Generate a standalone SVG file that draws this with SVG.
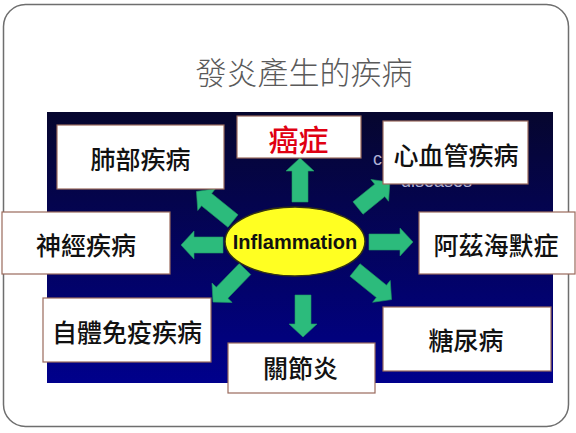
<svg xmlns="http://www.w3.org/2000/svg" width="576" height="433" viewBox="0 0 576 433">
<defs>
<linearGradient id="bg" x1="0" y1="0" x2="0" y2="1">
<stop offset="0" stop-color="#06062e"/>
<stop offset="1" stop-color="#00008c"/>
</linearGradient>
<style>
.box{fill:#ffffff;stroke:#9a6a5c;stroke-width:1.2}
.lbl{font-family:"Noto Sans CJK TC","Noto Sans CJK SC",sans-serif;font-size:25px;font-weight:500;fill:#111;text-anchor:middle;dominant-baseline:central}
.arr{fill:#2cbb7c;stroke:#1f9a63;stroke-width:0.6}
.ghost{font-family:"Liberation Sans",Arial,sans-serif;font-size:18px;fill:#b0b0d4}
</style>
</defs>
<rect x="0" y="0" width="576" height="433" fill="#ffffff"/>
<rect x="3.5" y="4.5" width="565" height="422" rx="22" ry="22" fill="#ffffff" stroke="#6e6e6e" stroke-width="1.5"/>
<text x="304" y="70" font-family="'Noto Sans CJK TC','Noto Sans CJK SC',sans-serif" font-size="31" font-weight="300" fill="#5a5a5a" text-anchor="middle" dominant-baseline="central">發炎產生的疾病</text>
<rect x="47" y="112" width="506" height="271" fill="url(#bg)"/>
<text class="ghost" x="373" y="165">c</text>
<text class="ghost" x="401" y="187" font-size="17">diseases</text>
<g id="connectors">
<polygon class="arr" transform="translate(300,202) rotate(-90)" points="0,-8 31,-8 31,-14 44,0 31,14 31,8 0,8"/>
<polygon class="arr" transform="translate(303,295) rotate(90)" points="0,-8 29,-8 29,-14 42,0 29,14 29,8 0,8"/>
<polygon class="arr" transform="translate(223,245) rotate(180)" points="0,-8 29,-8 29,-14 42,0 29,14 29,8 0,8"/>
<polygon class="arr" transform="translate(369,242)" points="0,-8 31,-8 31,-14 44,0 31,14 31,8 0,8"/>
<polygon class="arr" transform="translate(233,221) rotate(-141)" points="0,-8 34,-8 34,-14 47,0 34,14 34,8 0,8"/>
<polygon class="arr" transform="translate(358,208) rotate(-39)" points="0,-8 28,-8 28,-14 41,0 28,14 28,8 0,8"/>
<polygon class="arr" transform="translate(245,269) rotate(134)" points="0,-8 33,-8 33,-14 46,0 33,14 33,8 0,8"/>
<polygon class="arr" transform="translate(355,270) rotate(39)" points="0,-8 34,-8 34,-14 47,0 34,14 34,8 0,8"/>
</g>
<g id="inflammation">
<ellipse cx="295" cy="241.5" rx="70" ry="34.5" fill="#ffff22" stroke="#333311" stroke-width="1.5"/>
<text x="295" y="249" font-family="'Liberation Sans',Arial,sans-serif" font-size="20" font-weight="bold" fill="#111" text-anchor="middle">Inflammation</text>
</g>
<g id="lung">
<rect class="box" x="57" y="125" width="167" height="64"/>
<text class="lbl" x="140.5" y="158">肺部疾病</text>
</g>
<g id="cancer">
<rect class="box" x="237" y="116" width="124" height="42"/>
<text class="lbl" x="298.5" y="138" style="fill:#e00012;font-size:30px">癌症</text>
</g>
<g id="cardio">
<rect class="box" x="383" y="121" width="145" height="63"/>
<text class="lbl" x="456" y="154">心血管疾病</text>
</g>
<g id="alzheimer">
<rect class="box" x="419" y="212" width="156" height="62"/>
<text class="lbl" x="496" y="244">阿茲海默症</text>
</g>
<g id="neuro">
<rect class="box" x="2" y="212" width="168" height="62"/>
<text class="lbl" x="86" y="244">神經疾病</text>
</g>
<g id="autoimmune">
<rect class="box" x="43" y="298" width="168" height="64"/>
<text class="lbl" x="127" y="331">自體免疫疾病</text>
</g>
<g id="arthritis">
<rect class="box" x="228" y="343" width="147" height="50"/>
<text class="lbl" x="300.5" y="367">關節炎</text>
</g>
<g id="diabetes">
<rect class="box" x="383" y="307" width="168" height="64"/>
<text class="lbl" x="466" y="339">糖尿病</text>
</g>
</svg>
